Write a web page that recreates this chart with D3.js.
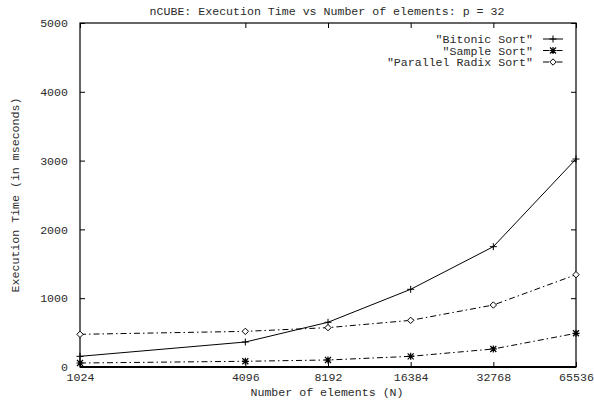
<!DOCTYPE html>
<html>
<head>
<meta charset="utf-8">
<script src="https://cdn.jsdelivr.net/npm/d3@7"></script>
<style>
  html, body { margin: 0; padding: 0; background: #fff; }
  text { font-family: "Liberation Mono", "Courier New", monospace; font-size: 11.6px; fill: #2a2a2a; }
</style>
</head>
<body>
<svg id="chart" width="594" height="402"></svg>
<script>
// Problem sizes (N) and execution times in milliseconds, p = 32
const sizes = [1024, 4096, 8192, 16384, 32768, 65536];
const bitonic = [155, 363, 650, 1129, 1749, 3023];
const sample = [58, 83, 102, 155, 262, 490];
const radix = [475, 518, 572, 678, 901, 1342];
const yTicks = [0, 1000, 2000, 3000, 4000, 5000];
const seriesNames = ['"Bitonic Sort"', '"Sample Sort"', '"Parallel Radix Sort"'];

const svg = d3.select("#chart");
const plotL = 80, plotR = 576, plotT = 23, plotB = 367;

const x = d3.scaleLog().base(2).domain([1024, 65536]).range([plotL, plotR]);
const y = d3.scaleLinear().domain([0, 5000]).range([plotB, plotT]);

// frame
svg.append("rect")
  .attr("x", plotL).attr("y", plotT)
  .attr("width", plotR - plotL).attr("height", plotB - plotT)
  .attr("fill", "none").attr("stroke", "#000").attr("stroke-width", 1.2);
svg.append("line")
  .attr("x1", plotL).attr("x2", plotR).attr("y1", plotB).attr("y2", plotB)
  .attr("stroke", "#000").attr("stroke-width", 2);

// axes with inward ticks mirrored on opposite sides
const tickLen = 5;
const yAxis = d3.axisLeft(y).tickValues(yTicks).tickSize(-tickLen).tickPadding(tickLen + 7).tickFormat(d3.format("d"));
const yAxisR = d3.axisRight(y).tickValues(yTicks).tickSize(-tickLen).tickFormat("");
const xAxis = d3.axisBottom(x).tickValues(sizes).tickSize(-tickLen).tickPadding(6).tickFormat(d3.format("d"));
const xAxisT = d3.axisTop(x).tickValues(sizes).tickSize(-tickLen).tickFormat("");

function styleAxis(g) {
  g.select(".domain").remove();
  g.selectAll(".tick line").attr("stroke", "#000");
  g.selectAll("text").attr("font-family", null).attr("font-size", null).attr("fill", "#2a2a2a");
}
svg.append("g").attr("transform", `translate(${plotL},0)`).call(yAxis).call(styleAxis);
svg.append("g").attr("transform", `translate(${plotR},0)`).call(yAxisR).call(styleAxis);
svg.append("g").attr("transform", `translate(0,${plotB})`).call(xAxis).call(styleAxis);
svg.append("g").attr("transform", `translate(0,${plotT})`).call(xAxisT).call(styleAxis);

// titles
svg.append("text").attr("x", 327).attr("y", 15).attr("text-anchor", "middle")
  .text("nCUBE: Execution Time vs Number of elements: p = 32");
svg.append("text").attr("x", 327).attr("y", 396).attr("text-anchor", "middle")
  .text("Number of elements (N)");
svg.append("text").attr("transform", `translate(19,${(plotT + plotB) / 2}) rotate(-90)`)
  .attr("text-anchor", "middle")
  .text("Execution Time (in mseconds)");

// marker shapes
function plus(g, cx, cy) {
  const s = 3.5;
  g.append("path").attr("d", `M${cx - s},${cy}H${cx + s}M${cx},${cy - s}V${cy + s}`)
    .attr("stroke", "#000").attr("stroke-width", 1).attr("fill", "none");
}
function star(g, cx, cy) {
  const s = 3.5, d = 3;
  g.append("path").attr("d",
    `M${cx - s},${cy}H${cx + s}M${cx},${cy - s}V${cy + s}M${cx - d},${cy - d}L${cx + d},${cy + d}M${cx - d},${cy + d}L${cx + d},${cy - d}`)
    .attr("stroke", "#000").attr("stroke-width", 1.2).attr("fill", "none");
}
function diamond(g, cx, cy) {
  const s = 3.2;
  g.append("path").attr("d", `M${cx},${cy - s}L${cx + s},${cy}L${cx},${cy + s}L${cx - s},${cy}Z`)
    .attr("stroke", "#000").attr("stroke-width", 1).attr("fill", "#fff");
}

const series = [
  { name: seriesNames[0], values: bitonic, dash: null, marker: plus },
  { name: seriesNames[1], values: sample, dash: "6,3,1.5,3", marker: star },
  { name: seriesNames[2], values: radix, dash: "6,3,1.5,3", marker: diamond }
];

const line = d3.line().x((d, i) => x(sizes[i])).y(d => y(d));

series.forEach((s, k) => {
  const g = svg.append("g");
  g.append("path").datum(s.values).attr("d", line)
    .attr("fill", "none").attr("stroke", "#000").attr("stroke-width", 1)
    .attr("stroke-dasharray", s.dash);
  s.values.forEach((v, i) => s.marker(g, x(sizes[i]), y(v)));

  // legend entry
  const ly = 39 + k * 11.5;
  svg.append("text").attr("x", 533).attr("y", ly + 4).attr("text-anchor", "end").text(s.name);
  const lg = svg.append("g");
  lg.append("line").attr("x1", 543).attr("x2", 563).attr("y1", ly).attr("y2", ly)
    .attr("stroke", "#000").attr("stroke-width", 1).attr("stroke-dasharray", s.dash);
  s.marker(lg, 553, ly);
});
</script>
</body>
</html>
